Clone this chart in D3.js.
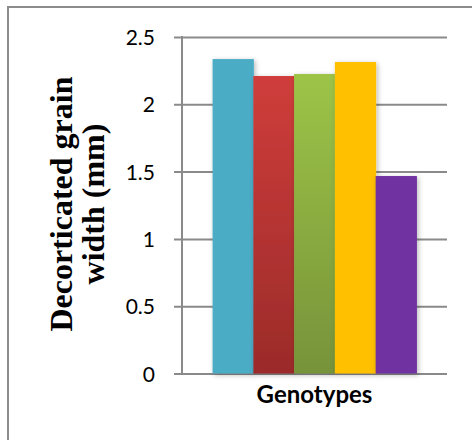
<!DOCTYPE html>
<html>
<head>
<meta charset="utf-8">
<script src="https://cdn.jsdelivr.net/npm/d3@7/dist/d3.min.js"></script>
<style>
  html, body { margin: 0; padding: 0; background: #ffffff; }
  svg { display: block; }
</style>
</head>
<body>
<div id="chart"></div>
<script>
// Decorticated grain width of five genotypes (mm)
const genotypes = ["G1", "G2", "G3", "G4", "G5"];
const widths = [2.336, 2.21, 2.225, 2.314, 1.467];
const barColors = [
  { top: "#4bacc6", bottom: "#4bacc6" },
  { top: "#cf3d3b", bottom: "#9b2b29" },
  { top: "#9dc447", bottom: "#77933a" },
  { top: "#ffc000", bottom: "#ffc000" },
  { top: "#7030a0", bottom: "#7030a0" }
];
const yTicks = [0, 0.5, 1, 1.5, 2, 2.5];
const yTickLabels = ["0", "0.5", "1", "1.5", "2", "2.5"];
const categoryLabel = "Genotypes";
const yTitleLines = ["Decorticated grain", "width (mm)"];

const W = 472, H = 440;
const plot = { left: 182, right: 447, top: 37, bottom: 373.5 };

const svg = d3.select("#chart").append("svg")
  .attr("width", W).attr("height", H);

const defs = svg.append("defs");
barColors.forEach((c, i) => {
  const g = defs.append("linearGradient")
    .attr("id", "bar-grad-" + i)
    .attr("x1", 0).attr("y1", 0).attr("x2", 0).attr("y2", 1);
  g.append("stop").attr("offset", "0%").attr("stop-color", c.top);
  g.append("stop").attr("offset", "100%").attr("stop-color", c.bottom);
});
const shadow = defs.append("filter").attr("id", "bar-shadow")
  .attr("x", "-20%").attr("y", "-10%").attr("width", "140%").attr("height", "120%");
shadow.append("feDropShadow")
  .attr("dx", 1.5).attr("dy", 1.5).attr("stdDeviation", 2.5)
  .attr("flood-color", "#000").attr("flood-opacity", 0.28);

// chart frame
svg.append("rect")
  .attr("x", 8).attr("y", 7)
  .attr("width", W + 20).attr("height", H + 20)
  .attr("fill", "none").attr("stroke", "#8c8c8c").attr("stroke-width", 2);

const y = d3.scaleLinear().domain([0, 2.5]).range([plot.bottom, plot.top]);

// single category containing five side-by-side bars (gap width 150%)
const xOuter = d3.scaleBand().domain([categoryLabel])
  .range([plot.left, plot.right]).paddingInner(0).paddingOuter(0.15);
const xInner = d3.scaleBand().domain(genotypes)
  .range([xOuter(categoryLabel), xOuter(categoryLabel) + xOuter.bandwidth()])
  .padding(0);

// y axis with gridlines spanning the plot
const yAxis = d3.axisLeft(y)
  .tickValues(yTicks)
  .tickFormat((d, i) => yTickLabels[i])
  .tickSize(-(plot.right - plot.left))
  .tickPadding(0);

const gAxis = svg.append("g")
  .attr("transform", `translate(${plot.left},0)`)
  .call(yAxis);
gAxis.select(".domain").remove();
gAxis.selectAll(".tick line")
  .attr("x1", -8)
  .attr("stroke", "#8a8a8a").attr("stroke-width", 2);
gAxis.selectAll(".tick text")
  .attr("x", -27)
  .attr("dy", "0.36em")
  .attr("fill", "#000")
  .style("font-family", "Lato, 'Open Sans', sans-serif")
  .style("font-size", "21px");

// vertical axis line
svg.append("line")
  .attr("x1", plot.left).attr("x2", plot.left)
  .attr("y1", plot.top - 1).attr("y2", plot.bottom + 1)
  .attr("stroke", "#8a8a8a").attr("stroke-width", 2);

// bars
svg.append("g").selectAll("rect")
  .data(widths)
  .join("rect")
  .attr("x", (d, i) => xInner(genotypes[i]))
  .attr("y", d => y(d))
  .attr("width", xInner.bandwidth() + 0.5)
  .attr("height", d => y(0) - y(d))
  .attr("fill", (d, i) => `url(#bar-grad-${i})`)
  .attr("filter", "url(#bar-shadow)");

// category label
svg.append("text")
  .attr("x", xOuter(categoryLabel) + xOuter.bandwidth() / 2)
  .attr("y", 403)
  .attr("text-anchor", "middle")
  .attr("fill", "#000")
  .style("font-family", "Lato, 'Open Sans', sans-serif")
  .style("font-weight", "bold")
  .style("font-size", "24px")
  .text(categoryLabel);

// y axis title
const yMid = 204;
const title = svg.append("text")
  .attr("transform", `translate(72,${yMid}) rotate(-90)`)
  .attr("text-anchor", "middle")
  .attr("fill", "#000")
  .style("font-family", "'Liberation Serif', 'Times New Roman', serif")
  .style("font-weight", "bold")
  .style("font-size", "32px");
yTitleLines.forEach((t, i) => {
  title.append("tspan")
    .attr("x", 0)
    .attr("y", i * 32)
    .text(t);
});
</script>
</body>
</html>
